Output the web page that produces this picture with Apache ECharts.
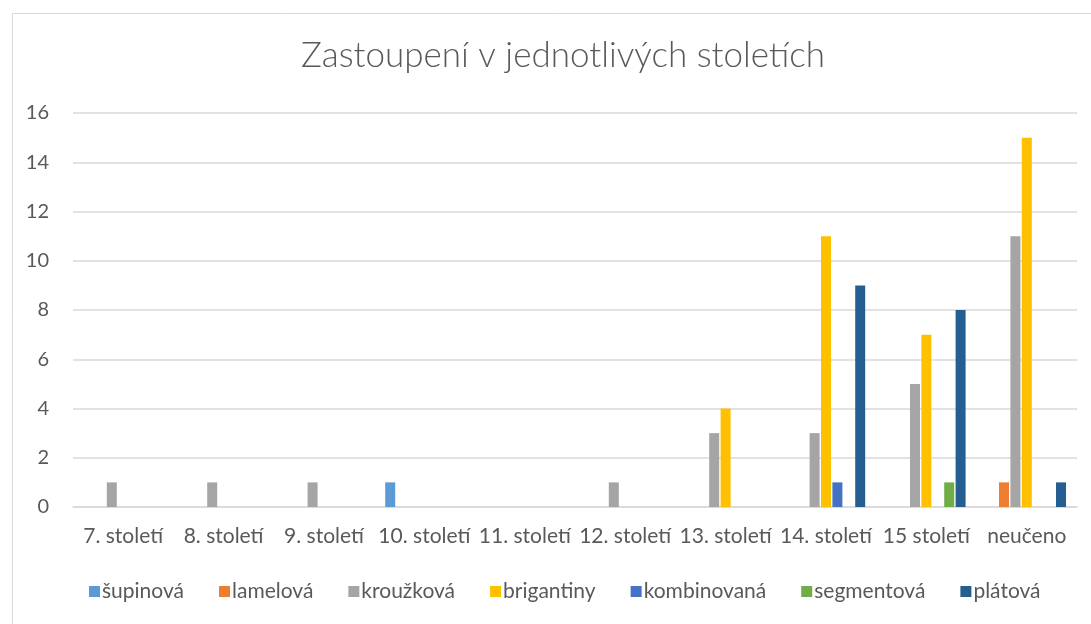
<!DOCTYPE html>
<html>
<head>
<meta charset="utf-8">
<script src="https://cdn.jsdelivr.net/npm/echarts@6/dist/echarts.min.js"></script>
<style>
  html, body { margin: 0; padding: 0; background: #fff; }
  #chart { width: 1091px; height: 624px; }
</style>
</head>
<body>
<div id="chart"></div>
<script>
var categories = ['7. století', '8. století', '9. století', '10. století', '11. století',
    '12. století', '13. století', '14. století', '15 století', 'neučeno'];
var seriesNames = ['šupinová', 'lamelová', 'kroužková', 'brigantiny', 'kombinovaná', 'segmentová', 'plátová'];
var supinova    = [0, 0, 0, 1, 0, 0, 0, 0, 0, 0];
var lamelova    = [0, 0, 0, 0, 0, 0, 0, 0, 0, 1];
var krouzkova   = [1, 1, 1, 0, 0, 1, 3, 3, 5, 11];
var brigantiny  = [0, 0, 0, 0, 0, 0, 4, 11, 7, 15];
var kombinovana = [0, 0, 0, 0, 0, 0, 0, 1, 0, 0];
var segmentova  = [0, 0, 0, 0, 0, 0, 0, 0, 1, 0];
var platova     = [0, 0, 0, 0, 0, 0, 0, 9, 8, 1];
var colors = ['#5B9BD5', '#ED7D31', '#A5A5A5', '#FFC000', '#4472C4', '#70AD47', '#255E91'];

var font = 'Lato, "Open Sans", sans-serif';
var allData = [supinova, lamelova, krouzkova, brigantiny, kombinovana, segmentova, platova];

var chart = echarts.init(document.getElementById('chart'));
var option = {
    animation: false,
    color: colors,
    title: {
        text: 'Zastoupení v jednotlivých stoletích',
        left: 558,
        textAlign: 'center',
        top: 33,
        textStyle: { fontFamily: font, fontWeight: 300, fontSize: 35, color: '#595959' }
    },
    graphic: [{
        type: 'rect',
        shape: { x: 12.5, y: 13.5, width: 1090, height: 620 },
        style: { fill: 'none', stroke: '#d9d9d9', lineWidth: 1 },
        silent: true
    }],
    legend: {
        data: seriesNames,
        bottom: 17,
        left: 84,
        itemWidth: 11,
        itemHeight: 11,
        itemGap: 35,
        icon: 'rect',
        textStyle: { fontFamily: font, fontSize: 21, color: '#595959', padding: [0, 0, 0, -3] }
    },
    grid: { left: 73, right: 14, top: 113, bottom: 117 },
    xAxis: {
        type: 'category',
        data: categories,
        axisLine: { lineStyle: { color: '#d9d9d9', width: 1.5 } },
        axisTick: { show: false },
        axisLabel: { fontFamily: font, fontSize: 21, color: '#595959', margin: 19, interval: 0 }
    },
    yAxis: {
        type: 'value',
        min: 0,
        max: 16,
        interval: 2,
        axisLine: { show: false },
        axisTick: { show: false },
        splitLine: { lineStyle: { color: '#d9d9d9', width: 1.5 } },
        axisLabel: { fontFamily: font, fontSize: 20, color: '#595959', margin: 24 }
    },
    series: seriesNames.map(function (name, i) {
        return {
            name: name,
            type: 'bar',
            data: allData[i],
            barWidth: 10,
            barGap: '14%'
        };
    })
};
chart.setOption(option);
</script>
</body>
</html>
